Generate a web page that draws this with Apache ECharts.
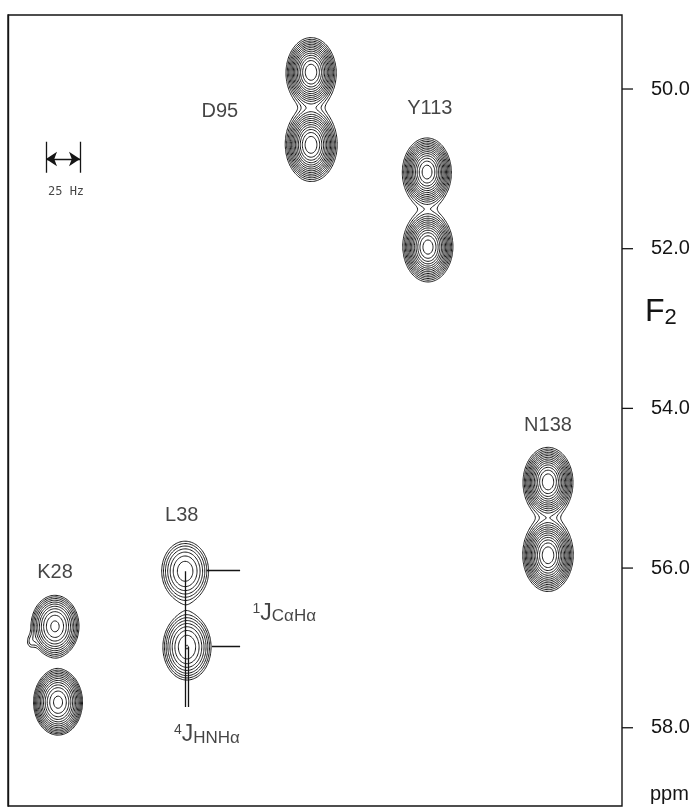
<!DOCTYPE html>
<html>
<head>
<meta charset="utf-8">
<title>F2 strips</title>
<script src="https://cdn.jsdelivr.net/npm/echarts@6/dist/echarts.min.js"></script>
<style>
  html, body { margin: 0; padding: 0; background: #fff; }
  #chart { width: 697px; height: 808px; }
</style>
</head>
<body>
<div id="chart"></div>
<script>
// residues and their doublet peaks (upper, lower component)
const residues = ['D95', 'Y113', 'N138', 'L38', 'K28'];
const peakF1 = [[49.35, 49.35], [68.25, 68.4], [87.95, 87.95], [28.85, 29.15], [7.65, 8.15]];   // F1, arbitrary units
const peakF2 = [[49.79, 50.70], [51.04, 51.98], [54.92, 55.84], [56.04, 56.99], [56.73, 57.68]]; // F2, ppm
const peakHeight = [[22, 22], [21, 21], [22, 22], [4.5, 6], [10, 16]];
const lineWidthF1 = [[1.47, 1.52], [1.45, 1.49], [1.47, 1.49], [2.2, 2.07], [1.82, 1.69]];
const lineWidthF2 = [[0.158, 0.166], [0.156, 0.161], [0.158, 0.166], [0.217, 0.218], [0.181, 0.175]];
const lorentzFraction = [0.1, 0.1, 0.1, 0, 0];
// small artefact on the K28 peak
const extraPeak = { f1: 3.6, f2: 56.93, h: 0.9, w1: 0.65, w2: 0.075 };

const labelF1 = [34.5, 68.7, 87.95, 28.3, 7.65];
const labelF2 = [50.28, 50.24, 54.21, 55.34, 56.06];

const yTicks = [50.0, 52.0, 54.0, 56.0, 58.0];
const contourBase = 1;
const contourFactor = 1.25;
const contourCount = 14;

const X_MIN = 0, X_MAX = 100, Y_MIN = 49.073, Y_MAX = 58.98;

// ---- build the field
const NX = 500, NY = 660;
const dx = (X_MAX - X_MIN) / NX, dy = (Y_MAX - Y_MIN) / NY;
const W = NX + 1;
const field = new Float64Array(W * (NY + 1));

const peaks = [];
residues.forEach((r, k) => {
  for (let c = 0; c < 2; c++) {
    peaks.push({ x: peakF1[k][c], y: peakF2[k][c], a: peakHeight[k][c], sx: lineWidthF1[k][c], sy: lineWidthF2[k][c], eta: lorentzFraction[k] });
  }
});
peaks.push({ x: extraPeak.f1, y: extraPeak.f2, a: extraPeak.h, sx: extraPeak.w1, sy: extraPeak.w2, eta: 0 });

peaks.forEach(p => {
  const reach = p.eta > 0 ? 14 : 6;
  const i0 = Math.max(0, Math.floor((p.x - reach * p.sx - X_MIN) / dx));
  const i1 = Math.min(NX, Math.ceil((p.x + reach * p.sx - X_MIN) / dx));
  const j0 = Math.max(0, Math.floor((p.y - reach * p.sy - Y_MIN) / dy));
  const j1 = Math.min(NY, Math.ceil((p.y + reach * p.sy - Y_MIN) / dy));
  for (let j = j0; j <= j1; j++) {
    const uy = (Y_MIN + j * dy - p.y) / p.sy;
    for (let i = i0; i <= i1; i++) {
      const ux = (X_MIN + i * dx - p.x) / p.sx;
      const r2 = ux * ux + uy * uy;
      field[j * W + i] += p.a * ((1 - p.eta) * Math.exp(-0.5 * r2) + p.eta / (1 + 0.5 * r2));
    }
  }
});

// ---- marching squares
const TABLE = { 1: [[3, 0]], 2: [[0, 1]], 3: [[3, 1]], 4: [[1, 2]], 6: [[0, 2]], 7: [[3, 2]],
  8: [[2, 3]], 9: [[0, 2]], 11: [[1, 2]], 12: [[1, 3]], 13: [[0, 1]], 14: [[0, 3]] };

function contour(level) {
  const segs = [];
  for (let j = 0; j < NY; j++) {
    for (let i = 0; i < NX; i++) {
      const v0 = field[j * W + i], v1 = field[j * W + i + 1];
      const v2 = field[(j + 1) * W + i + 1], v3 = field[(j + 1) * W + i];
      const c = (v0 >= level ? 1 : 0) | (v1 >= level ? 2 : 0) | (v2 >= level ? 4 : 0) | (v3 >= level ? 8 : 0);
      if (c === 0 || c === 15) continue;
      let pairs = TABLE[c];
      if (c === 5 || c === 10) {
        const mid = (v0 + v1 + v2 + v3) / 4 >= level;
        if (c === 5) pairs = mid ? [[0, 1], [2, 3]] : [[3, 0], [1, 2]];
        else pairs = mid ? [[3, 0], [1, 2]] : [[0, 1], [2, 3]];
      }
      const x = X_MIN + i * dx, y = Y_MIN + j * dy;
      const edge = e => {
        if (e === 0) return [(j * W + i) * 2, [x + (level - v0) / (v1 - v0) * dx, y]];
        if (e === 1) return [(j * W + i + 1) * 2 + 1, [x + dx, y + (level - v1) / (v2 - v1) * dy]];
        if (e === 2) return [((j + 1) * W + i) * 2, [x + (level - v3) / (v2 - v3) * dx, y + dy]];
        return [(j * W + i) * 2 + 1, [x, y + (level - v0) / (v3 - v0) * dy]];
      };
      pairs.forEach(pr => {
        const a = edge(pr[0]), b = edge(pr[1]);
        segs.push([a[0], a[1], b[0], b[1]]);
      });
    }
  }
  // join the segments into polylines
  const byKey = new Map();
  const add = (k, idx) => { if (!byKey.has(k)) byKey.set(k, []); byKey.get(k).push(idx); };
  segs.forEach((s, idx) => { add(s[0], idx); add(s[2], idx); });
  const used = new Uint8Array(segs.length);
  const out = [];
  const walk = (key, pts, atEnd) => {
    for (;;) {
      const next = (byKey.get(key) || []).find(n => !used[n]);
      if (next === undefined) return;
      used[next] = 1;
      const s = segs[next];
      let p;
      if (s[0] === key) { p = s[3]; key = s[2]; } else { p = s[1]; key = s[0]; }
      if (atEnd) pts.push(p); else pts.unshift(p);
    }
  };
  for (let n = 0; n < segs.length; n++) {
    if (used[n]) continue;
    used[n] = 1;
    const pts = [segs[n][1], segs[n][3]];
    walk(segs[n][2], pts, true);
    walk(segs[n][0], pts, false);
    out.push(pts);
  }
  return out;
}

const contourLines = [];
for (let k = 0; k < contourCount; k++) {
  contour(contourBase * Math.pow(contourFactor, k)).forEach(pts => contourLines.push({ coords: pts }));
}

// ---- annotations (L38 coupling markers, scale bar)
const L = 3;
const markerBottom = 57.74, markerRight = 37.8;
const jMarkers = [
  { coords: [[peakF1[L][0], peakF2[L][0]], [peakF1[L][0], markerBottom]] },
  { coords: [[peakF1[L][1] + 0.15, peakF2[L][1]], [peakF1[L][1] + 0.15, markerBottom]] },
  { coords: [[32.4, peakF2[L][0] - 0.01], [markerRight, peakF2[L][0] - 0.01]] },
  { coords: [[33.2, peakF2[L][1] - 0.015], [markerRight, peakF2[L][1] - 0.015]] }
];
const barLeft = 6.19, barRight = 11.73, barTop = 50.66, barBottom = 51.05, barMid = 50.877;

const font = 'Liberation Sans, Arial, Helvetica, sans-serif';
const ink = '#151515';

const chart = echarts.init(document.getElementById('chart'));
chart.setOption({
  animation: false,
  backgroundColor: '#fff',
  grid: { left: 8, right: 75, top: 15, bottom: 2, show: true, borderColor: ink, borderWidth: 1.4 },
  xAxis: { type: 'value', min: X_MIN, max: X_MAX, show: false },
  yAxis: {
    type: 'value', position: 'right', inverse: true, min: Y_MIN, max: Y_MAX,
    splitLine: { show: false },
    axisLine: { show: true, lineStyle: { color: ink, width: 1.4 } },
    axisTick: { show: false },
    axisLabel: { customValues: yTicks, formatter: v => v.toFixed(1), margin: 29, fontSize: 20, color: ink, fontFamily: font }
  },
  graphic: [
    { type: 'text', left: 645, top: 296, style: { text: '{f|F}{s|2}', fill: ink, font: '31px ' + font,
      rich: { f: { fontSize: 32, fontFamily: font, fill: ink, lineHeight: 34 }, s: { fontSize: 22, fontFamily: font, fill: ink, verticalAlign: 'bottom', lineHeight: 22, padding: [10, 0, 0, 0] } } } },
    { type: 'text', left: 650, top: 784, style: { text: 'ppm', fill: ink, font: '20px ' + font } }
  ],
  series: [
    {
      type: 'lines', coordinateSystem: 'cartesian2d', polyline: true, silent: true, progressive: 0,
      data: contourLines, lineStyle: { color: ink, width: 1, opacity: 1 }
    },
    {
      // right-hand axis ticks, placed through the y scale
      type: 'custom', coordinateSystem: 'cartesian2d', silent: true, clip: false,
      data: yTicks.map(v => [X_MAX, v]),
      renderItem: (params, api) => {
        const p = api.coord([api.value(0), api.value(1)]);
        return { type: 'line', shape: { x1: p[0], y1: p[1], x2: p[0] + 11, y2: p[1] }, style: { stroke: ink, lineWidth: 1.3 } };
      }
    },
    {
      type: 'lines', coordinateSystem: 'cartesian2d', silent: true, data: jMarkers,
      lineStyle: { color: ink, width: 1.3, opacity: 1 }
    },
    {
      type: 'lines', coordinateSystem: 'cartesian2d', silent: true,
      data: [{ coords: [[barLeft, barTop], [barLeft, barBottom]] }, { coords: [[barRight, barTop], [barRight, barBottom]] }],
      lineStyle: { color: ink, width: 1.3, opacity: 1 }
    },
    {
      type: 'lines', coordinateSystem: 'cartesian2d', silent: true, symbol: ['arrow', 'arrow'], symbolSize: 11,
      data: [{ coords: [[barLeft, barMid], [barRight, barMid]] }],
      lineStyle: { color: ink, width: 1.3, opacity: 1 }
    },
    {
      type: 'scatter', symbolSize: 0, silent: true,
      data: residues.map((r, k) => ({ name: r, value: [labelF1[k], labelF2[k]] })),
      label: { show: true, position: 'inside', formatter: '{b}', fontSize: 20, color: ink, fontFamily: font }
    },
    {
      type: 'scatter', symbolSize: 0, silent: true,
      data: [{ name: '25 Hz', value: [9.45, 51.29] }],
      label: { show: true, position: 'inside', formatter: '{b}', fontSize: 12, color: ink, fontFamily: 'DejaVu Sans Mono, monospace' }
    },
    {
      type: 'scatter', symbolSize: 0, silent: true,
      data: [
        { name: 'C', value: [45.0, 56.57], label: { formatter: '{sup|1}{j|J}{sub|C\u03b1H\u03b1}' } },
        { name: 'H', value: [32.4, 58.09], label: { formatter: '{sup|4}{j|J}{sub|HNH\u03b1}' } }
      ],
      label: {
        show: true, position: 'inside', color: ink, fontFamily: font,
        rich: {
          sup: { fontSize: 14, fontFamily: font, color: ink, verticalAlign: 'top', lineHeight: 14 },
          j: { fontSize: 23, fontFamily: font, color: ink, lineHeight: 23 },
          sub: { fontSize: 17, fontFamily: font, color: ink, verticalAlign: 'bottom', lineHeight: 17, padding: [14, 0, 0, 0] }
        }
      }
    }
  ]
});
</script>
</body>
</html>
